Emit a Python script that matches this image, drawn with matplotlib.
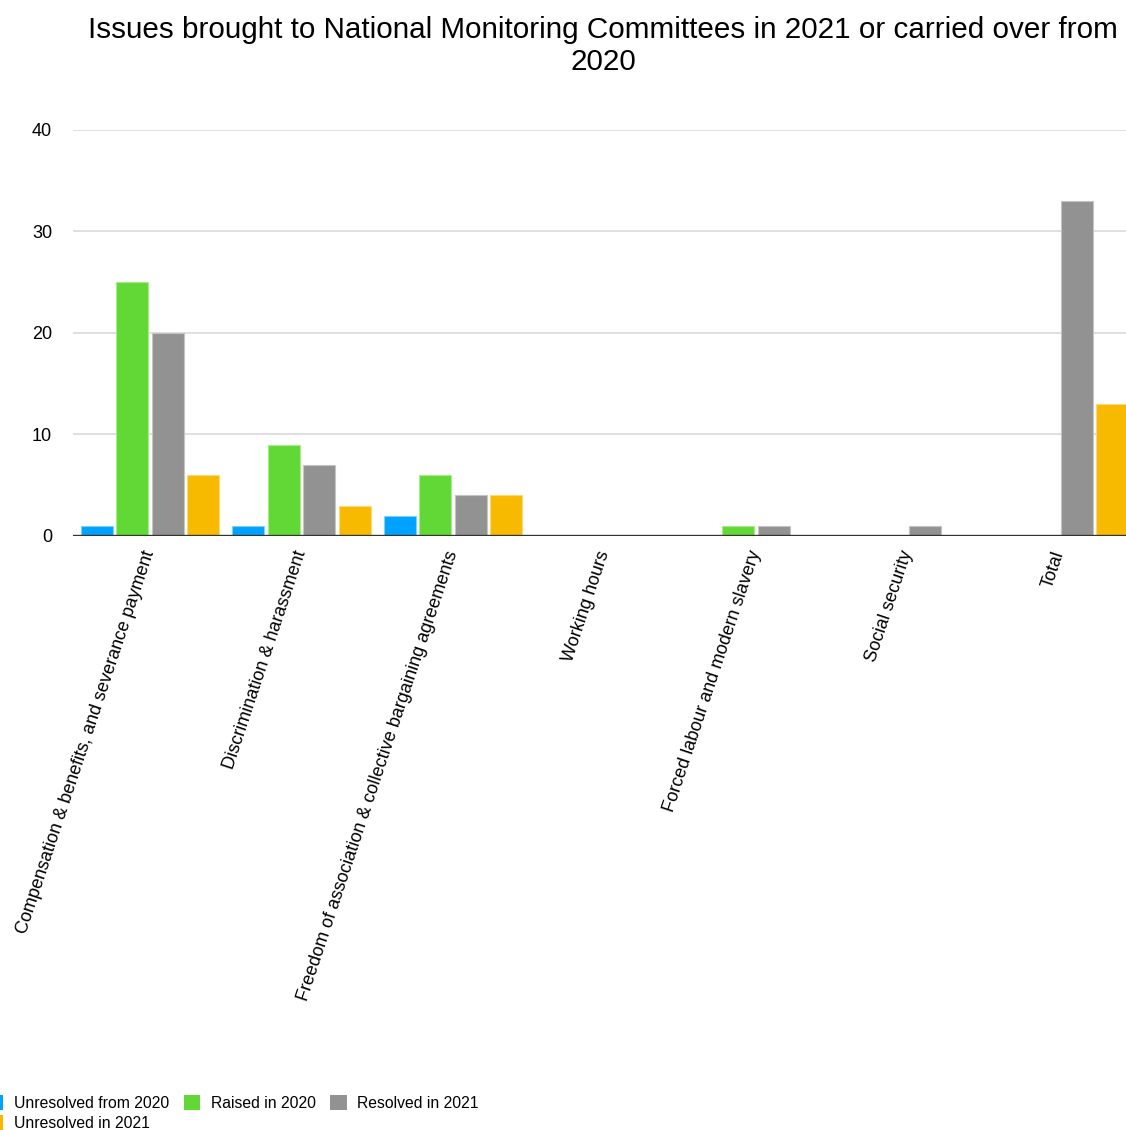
import numpy as np
import matplotlib.pyplot as plt
from matplotlib.patches import Patch

plt.rcParams['font.family'] = ['Liberation Sans', 'DejaVu Sans']

categories = [
    "Compensation & benefits, and severance payment",
    "Discrimination & harassment",
    "Freedom of association & collective bargaining agreements",
    "Working hours",
    "Forced labour and modern slavery",
    "Social security",
    "Total",
]
series_names = ["Unresolved from 2020", "Raised in 2020", "Resolved in 2021", "Unresolved in 2021"]
unresolved_2020 = [1, 1, 2, 0, 0, 0, 0]
raised_2020 = [25, 9, 6, 0, 1, 0, 0]
resolved_2021 = [20, 7, 4, 0, 1, 1, 33]
unresolved_2021 = [6, 3, 4, 0, 0, 0, 13]
y_ticks = [0, 10, 20, 30, 40]

colors = ["#00A2FF", "#61D836", "#929292", "#F8BA00"]
edges = ["#7fd0ff", "#a8ec8c", "#c4c4c4", "#fbd97a"]

W, H = 1126, 1130
fig = plt.figure(figsize=(W / 100, H / 100), dpi=100)
ax = fig.add_axes([73 / W, 1 - 536 / H, 1 - 73 / W, (536 - 130) / H])

x = np.arange(len(categories))
step = 0.235
width = 0.211
all_series = [unresolved_2020, raised_2020, resolved_2021, unresolved_2021]
handles = []
for i, vals in enumerate(all_series):
    offs = (i - 1.5) * step
    ax.bar(x + offs, vals, width, color=colors[i], edgecolor=edges[i],
           linewidth=0.8, zorder=3)
    handles.append(Patch(facecolor=colors[i], label=series_names[i]))

ax.set_xlim(-0.508, 6.442)
ax.set_ylim(0, 40)
ax.set_yticks(y_ticks)
ax.set_yticklabels([str(v) for v in y_ticks], fontsize=13)
ax.grid(axis='y', color='#d9d9d9', linewidth=1.2, zorder=0)
ax.axhline(0, color='#333333', linewidth=2.4, zorder=4)
for s in ax.spines.values():
    s.set_visible(False)
ax.tick_params(axis='both', length=0)
ax.tick_params(axis='y', pad=15)

ax.set_xticks(x)
ax.set_xticklabels(categories, rotation=71.5, ha='right', va='center',
                   rotation_mode='anchor', fontsize=13)
ax.tick_params(axis='x', pad=11)

fig.text(603 / W, 1 - 46 / H,
         "Issues brought to National Monitoring Committees in 2021 or carried over from\n2020",
         ha='center', va='center', fontsize=21.3, linespacing=1.2)

# legend order gives blue/yellow in the first column
order = [0, 3, 1, 2]
fig.legend([handles[k] for k in order], [series_names[k] for k in order],
           loc='upper left', bbox_to_anchor=(-13 / W, 1 - 1095 / H),
           ncol=3, frameon=False, fontsize=11.3, borderpad=0, borderaxespad=0,
           handlelength=1.05, handleheight=1.1, handletextpad=0.65,
           columnspacing=0.95, labelspacing=0.25)

fig.savefig("out.png", dpi=100)
